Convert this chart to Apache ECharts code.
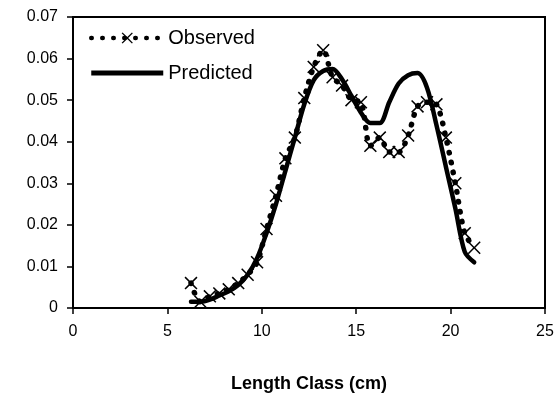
<!DOCTYPE html>
<html>
<head>
<meta charset="utf-8">
<script src="https://cdn.jsdelivr.net/npm/echarts@6.0.0/dist/echarts.min.js"></script>
<style>
  html, body { margin: 0; padding: 0; background: #fff; }
  #chart { width: 557px; height: 399px; }
</style>
</head>
<body>
<div id="chart"></div>
<script>
// length classes (cm), midpoints of 0.5 cm bins
const lengthClass = [6.25, 6.75, 7.25, 7.75, 8.25, 8.75, 9.25, 9.75, 10.25, 10.75,
  11.25, 11.75, 12.25, 12.75, 13.25, 13.75, 14.25, 14.75, 15.25, 15.75,
  16.25, 16.75, 17.25, 17.75, 18.25, 18.75, 19.25, 19.75, 20.25, 20.75, 21.25];

const observed = [0.006, 0.0015, 0.0028, 0.0035, 0.0045, 0.006, 0.008, 0.011, 0.019, 0.027,
  0.036, 0.041, 0.0505, 0.058, 0.062, 0.0555, 0.0535, 0.05, 0.0495, 0.039,
  0.041, 0.0375, 0.0375, 0.0415, 0.0485, 0.0495, 0.049, 0.041, 0.03, 0.018, 0.0145];

const predicted = [0.0015, 0.0015, 0.002, 0.003, 0.004, 0.0055, 0.008, 0.012, 0.018, 0.025,
  0.033, 0.041, 0.049, 0.0548, 0.057, 0.0575, 0.055, 0.051, 0.047, 0.0445,
  0.0445, 0.0495, 0.054, 0.056, 0.0565, 0.053, 0.044, 0.034, 0.024, 0.0135, 0.011];

const xTicks = { min: 0, max: 25, interval: 5 };
const yTicks = { min: 0, max: 0.07, interval: 0.01 };

const font = 'Liberation Sans, Arial, sans-serif';
const xMark = 'path://M1,0L6,5L11,0L12,1L7,6L12,11L11,12L6,7L1,12L0,11L5,6L0,1Z';
const barIcon = 'path://M0,0H72V5H0Z';
const dotted = { color: '#000', width: 5.5, type: [0.5, 9.5], cap: 'round' };

const obsData = lengthClass.map((x, i) => [x, observed[i]]);
const predData = lengthClass.map((x, i) => [x, predicted[i]]);

const chart = echarts.init(document.getElementById('chart'), null, { renderer: 'canvas' });

const option = {
  animation: false,
  backgroundColor: '#fff',
  textStyle: { fontFamily: font, color: '#000' },
  grid: {
    left: 73, right: 12, top: 17, bottom: 91,
    show: true, borderColor: '#000', borderWidth: 2, backgroundColor: 'transparent'
  },
  legend: {
    orient: 'vertical',
    left: 84, top: 23,
    itemWidth: 72, itemHeight: 14, itemGap: 15,
    textStyle: { fontFamily: font, fontSize: 20, color: '#000' },
    data: [
      { name: 'Observed', lineStyle: { color: '#000', width: 4.5, type: [0.5, 10.5], cap: 'round' } },
      { name: 'Predicted', icon: barIcon }
    ]
  },
  xAxis: {
    type: 'value',
    min: xTicks.min, max: xTicks.max, interval: xTicks.interval,
    name: 'Length Class (cm)',
    nameLocation: 'middle',
    nameGap: 67,
    nameTextStyle: { fontFamily: font, fontSize: 18, fontWeight: 'bold', color: '#000', verticalAlign: 'top' },
    axisLine: { lineStyle: { color: '#000', width: 2 } },
    axisTick: { show: true, inside: false, length: 6, lineStyle: { color: '#000', width: 1.5 } },
    axisLabel: { fontFamily: font, fontSize: 16, color: '#000', margin: 16 },
    splitLine: { show: false }
  },
  yAxis: {
    type: 'value',
    min: yTicks.min, max: yTicks.max, interval: yTicks.interval,
    axisLine: { show: true, lineStyle: { color: '#000', width: 2 } },
    axisTick: { show: true, inside: false, length: 6, lineStyle: { color: '#000', width: 1.5 } },
    axisLabel: {
      fontFamily: font, fontSize: 16, color: '#000', margin: 15,
      formatter: v => (v === 0 ? '0' : v.toFixed(2))
    },
    splitLine: { show: false }
  },
  series: [
    {
      name: 'Observed',
      type: 'line',
      data: obsData,
      smooth: 0.3,
      symbol: xMark,
      symbolSize: 13,
      showSymbol: true,
      itemStyle: { color: '#000' },
      lineStyle: dotted,
      z: 2
    },
    {
      name: 'Predicted',
      type: 'line',
      data: predData,
      smooth: 0.3,
      symbol: 'none',
      itemStyle: { color: '#000' },
      lineStyle: { color: '#000', width: 4.5, cap: 'round', join: 'round' },
      z: 3
    }
  ]
};

chart.setOption(option);
</script>
</body>
</html>
